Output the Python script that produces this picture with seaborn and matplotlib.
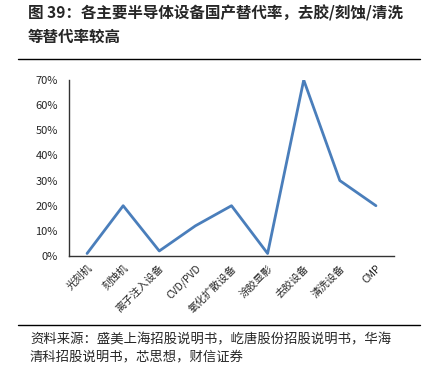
import matplotlib
matplotlib.use("Agg")
import matplotlib.pyplot as plt
import seaborn as sns
import pandas as pd
from matplotlib.ticker import FuncFormatter, FixedLocator

categories = ["光刻机", "刻蚀机", "离子注入设备", "CVD/PVD", "氧化扩散设备",
              "涂胶显影", "去胶设备", "清洗设备", "CMP"]
rates = [0.01, 0.20, 0.02, 0.12, 0.20, 0.01, 0.70, 0.30, 0.20]

title_line1 = "图 39：各主要半导体设备国产替代率，去胶/刻蚀/清洗"
title_line2 = "等替代率较高"
source_line1 = "资料来源：盛美上海招股说明书，屹唐股份招股说明书，华海"
source_line2 = "清科招股说明书，芯思想，财信证券"

sns.set_theme(style="white")
plt.rcParams["font.family"] = ["Noto Sans CJK SC", "DejaVu Sans"]

df = pd.DataFrame({"pos": range(len(categories)), "rate": rates})

fig = plt.figure(figsize=(4.27, 3.71), dpi=100)
ax = fig.add_axes([69 / 427, 1 - 256 / 371, (394 - 69) / 427, (256 - 80) / 371])

sns.lineplot(data=df, x="pos", y="rate", ax=ax, color="#4a7ebb", linewidth=2)

ax.set_xlim(-0.5, len(categories) - 0.5)
ax.set_ylim(0, 0.70)
ax.set_yticks([i / 10 for i in range(8)])
ax.yaxis.set_major_formatter(FuncFormatter(lambda v, p: f"{v * 100:.0f}%"))

# excel style: ticks between categories, labels at centers
ax.xaxis.set_major_locator(FixedLocator([i - 0.5 for i in range(len(categories) + 1)]))
ax.xaxis.set_major_formatter(FuncFormatter(lambda v, p: ""))
ax.xaxis.set_minor_locator(FixedLocator(list(range(len(categories)))))
ax.set_xticklabels(categories, minor=True, rotation=45, ha="right",
                   rotation_mode="anchor", fontsize=7.5)
ax.tick_params(axis="x", which="minor", length=0, pad=5)
ax.tick_params(axis="x", which="major", direction="in", length=3, color="#333333", width=0.8)
ax.tick_params(axis="y", direction="out", length=3, color="#333333", width=0.8,
               labelsize=8, pad=5)

ax.set_xlabel("")
ax.set_ylabel("")
for side in ["top", "right"]:
    ax.spines[side].set_visible(False)
for side in ["left", "bottom"]:
    ax.spines[side].set_color("#333333")
    ax.spines[side].set_linewidth(1)

fig.text(28 / 427, 1 - 13 / 371, title_line1, fontsize=11.2, fontweight="bold", va="center")
fig.text(28 / 427, 1 - 37 / 371, title_line2, fontsize=11.2, fontweight="bold", va="center")
fig.add_artist(plt.Line2D([18 / 427, 420 / 427], [1 - 59 / 371, 1 - 59 / 371],
                          color="black", linewidth=1))
fig.add_artist(plt.Line2D([18 / 427, 420 / 427], [1 - 325 / 371, 1 - 325 / 371],
                          color="black", linewidth=1))
fig.text(30 / 427, 1 - 339 / 371, source_line1, fontsize=9.6, style="italic", va="center")
fig.text(30 / 427, 1 - 356 / 371, source_line2, fontsize=9.6, style="italic", va="center")

fig.savefig("out.png", dpi=100)
